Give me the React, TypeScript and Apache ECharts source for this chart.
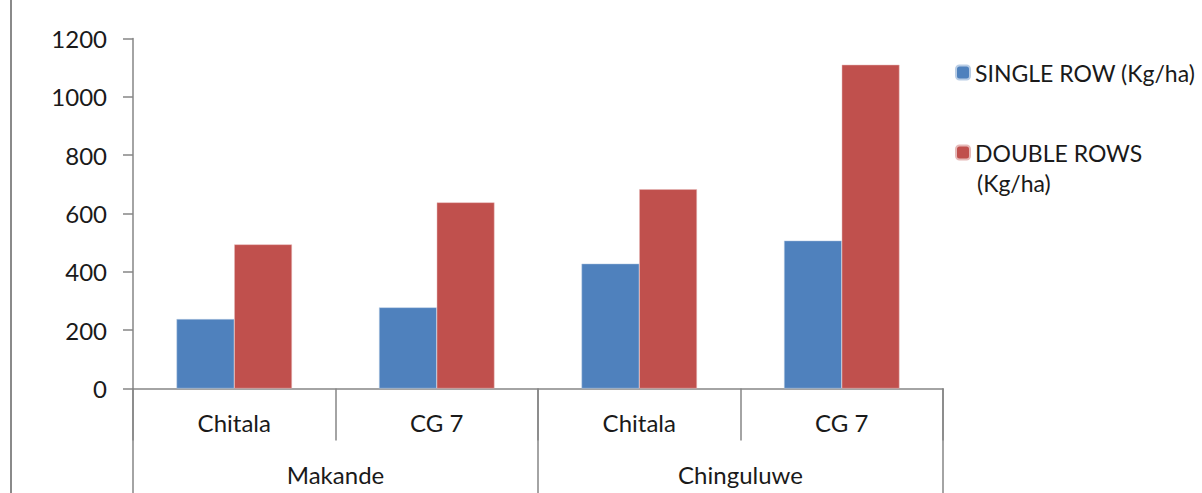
import React, { useEffect, useRef } from "react";
import * as echarts from "echarts";

const varieties = ["Chitala", "CG 7", "Chitala", "CG 7"];
const locations = ["Makande", "Chinguluwe"];
const singleRow = [238, 278, 428, 507];
const doubleRows = [494, 638, 683, 1110];
const seriesNames = ["SINGLE ROW (Kg/ha)", "DOUBLE ROWS (Kg/ha)"];

const FONT = "Lato";
const FS = 24;
const LEG_FS = 23;
const TEXT_COLOR = "#1a1a1a";
const AXIS_COLOR = "#868686";

export default function App() {
  const ref = useRef<HTMLDivElement>(null);
  useEffect(() => {
    if (!ref.current) return;
    const chart = echarts.init(ref.current, null, { renderer: "svg" });
    chart.setOption({
      animation: false,
      backgroundColor: "#fff",
      textStyle: { fontFamily: FONT },
      grid: { left: 133, right: 259, top: 38.5, bottom: 104.5, containLabel: false },
      legend: [
        {
          data: [seriesNames[0]],
          orient: "vertical",
          left: 955,
          top: 61,
          padding: 0,
          itemWidth: 14,
          itemHeight: 14,
          itemGap: 8,
          textStyle: { fontFamily: FONT, fontSize: LEG_FS, color: TEXT_COLOR },
          selectedMode: false,
        },
        {
          data: [seriesNames[1]],
          orient: "vertical",
          left: 955,
          top: 141,
          padding: 0,
          itemWidth: 14,
          itemHeight: 14,
          itemGap: 8,
          textStyle: { fontFamily: FONT, fontSize: LEG_FS, color: TEXT_COLOR },
          formatter: () => "DOUBLE ROWS",
          selectedMode: false,
        },
      ],
      graphic: [
        {
          type: "line",
          shape: { x1: 11, y1: 0, x2: 11, y2: 493 },
          style: { stroke: "#8a8a8a", lineWidth: 2 },
        },
        {
          type: "text",
          x: 977,
          y: 183,
          style: {
            text: "(Kg/ha)",
            fontFamily: FONT,
            fontSize: LEG_FS,
            fill: TEXT_COLOR,
            verticalAlign: "middle",
            align: "left",
          },
        },
      ],
      xAxis: [
        {
          type: "category",
          data: varieties,
          position: "bottom",
          axisLine: { lineStyle: { color: AXIS_COLOR, width: 1.5 } },
          axisTick: { show: true, length: 52, interval: 0, lineStyle: { color: AXIS_COLOR, width: 1.5 } },
          axisLabel: { margin: 22, fontFamily: FONT, fontSize: FS, color: TEXT_COLOR, interval: 0 },
        },
        {
          type: "category",
          data: locations,
          position: "bottom",
          axisLine: { show: false },
          axisTick: { show: true, length: 110, interval: 0, lineStyle: { color: AXIS_COLOR, width: 1.5 } },
          axisLabel: { margin: 74, fontFamily: FONT, fontSize: FS, color: TEXT_COLOR, interval: 0 },
        },
      ],
      yAxis: {
        type: "value",
        min: 0,
        max: 1200,
        interval: 200,
        axisLine: { show: true, lineStyle: { color: AXIS_COLOR, width: 1.5 } },
        axisTick: { show: true, length: 10, lineStyle: { color: AXIS_COLOR, width: 1.5 } },
        splitLine: { show: false },
        axisLabel: {
          margin: 26,
          fontFamily: FONT,
          fontSize: FS,
          color: TEXT_COLOR,
          formatter: (v: number) => String(v),
        },
      },
      series: [
        {
          name: seriesNames[0],
          type: "bar",
          xAxisIndex: 0,
          data: singleRow,
          barGap: "0%",
          barCategoryGap: "43%",
          itemStyle: { color: "#4F81BD", borderColor: "#b9cde5", borderWidth: 0.5 },
        },
        {
          name: seriesNames[1],
          type: "bar",
          xAxisIndex: 0,
          data: doubleRows,
          barGap: "0%",
          barCategoryGap: "43%",
          itemStyle: { color: "#C0504D", borderColor: "#e6b9b8", borderWidth: 0.5 },
        },
      ],
    });
    return () => chart.dispose();
  }, []);
  return (
    <div
      ref={ref}
      style={{ position: "fixed", left: 0, top: 0, width: 1202, height: 493 }}
    />
  );
}
